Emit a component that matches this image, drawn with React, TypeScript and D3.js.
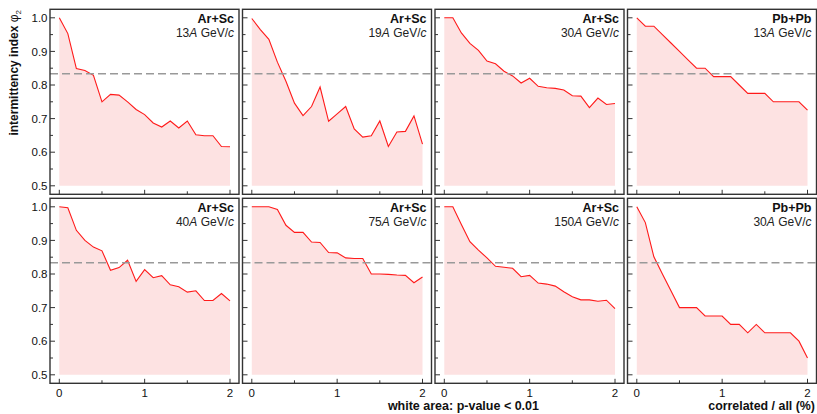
import React from 'react';
import * as d3 from 'd3';

// fraction of correlated particles (%)
const fractions = [0, 0.1, 0.2, 0.3, 0.4, 0.5, 0.6, 0.7, 0.8, 0.9, 1.0, 1.1, 1.2, 1.3, 1.4, 1.5, 1.6, 1.7, 1.8, 1.9, 2.0];

// intermittency index phi_2 at the p-value < 0.01 boundary
const arSc13 = [1.0, 0.953, 0.849, 0.843, 0.829, 0.75, 0.772, 0.77, 0.75, 0.727, 0.712, 0.687, 0.675, 0.693, 0.672, 0.693, 0.652, 0.649, 0.649, 0.617, 0.616];
const arSc19 = [0.998, 0.965, 0.936, 0.868, 0.811, 0.746, 0.709, 0.736, 0.794, 0.692, 0.714, 0.736, 0.669, 0.645, 0.649, 0.693, 0.617, 0.66, 0.662, 0.708, 0.624];
const arSc30 = [1.0, 1.0, 0.955, 0.924, 0.903, 0.871, 0.863, 0.841, 0.827, 0.806, 0.82, 0.796, 0.792, 0.79, 0.785, 0.768, 0.767, 0.733, 0.761, 0.742, 0.745];
const pbPb13 = [1.0, 0.975, 0.975, 0.95, 0.925, 0.9, 0.875, 0.85, 0.85, 0.825, 0.825, 0.825, 0.8, 0.775, 0.775, 0.775, 0.75, 0.75, 0.75, 0.75, 0.725];
const arSc40 = [1.0, 0.997, 0.93, 0.9, 0.88, 0.869, 0.811, 0.819, 0.841, 0.778, 0.813, 0.789, 0.795, 0.768, 0.762, 0.746, 0.75, 0.721, 0.721, 0.742, 0.72];
const arSc75 = [1.0, 1.0, 1.0, 0.992, 0.945, 0.924, 0.924, 0.895, 0.894, 0.864, 0.863, 0.848, 0.846, 0.846, 0.8, 0.8, 0.799, 0.797, 0.796, 0.774, 0.791];
const arSc150 = [1.0, 1.0, 0.947, 0.896, 0.871, 0.848, 0.823, 0.82, 0.817, 0.792, 0.796, 0.773, 0.77, 0.764, 0.747, 0.732, 0.723, 0.723, 0.719, 0.722, 0.697];
const pbPb30 = [1.0, 0.953, 0.851, 0.8, 0.75, 0.7, 0.7, 0.7, 0.675, 0.675, 0.675, 0.65, 0.65, 0.625, 0.65, 0.625, 0.625, 0.625, 0.625, 0.6, 0.55];

const systems = ['Ar+Sc', 'Ar+Sc', 'Ar+Sc', 'Pb+Pb', 'Ar+Sc', 'Ar+Sc', 'Ar+Sc', 'Pb+Pb'];
const energies = ['13', '19', '30', '13', '40', '75', '150', '30'];
const series = [arSc13, arSc19, arSc30, pbPb13, arSc40, arSc75, arSc150, pbPb30];

const yTicks = ['0.5', '0.6', '0.7', '0.8', '0.9', '1.0'];
const xTicks = ['0', '1', '2'];
const threshold = 5 / 6;

const W = 817;
const H = 414;
const left0 = 50;
const top0 = 9.3;
const colStep = 192.5;
const rowStep = 189;
const pw = 189;
const ph = 185;
const font = 'Liberation Sans, Arial, Helvetica, sans-serif';

const Panel = ({ idx }: { idx: number }) => {
  const col = idx % 4;
  const row = Math.floor(idx / 4);
  const px = left0 + col * colStep;
  const py = top0 + row * rowStep;

  const x = d3.scaleLinear().domain([0, 2]).range([9.3, pw - 9]);
  const y = d3.scaleLinear().domain([0.5, 1.0]).range([ph - 8.5, 8.5]);

  const pts = fractions.map((f, i) => ({ f, v: series[idx][i] }));
  const area = d3.area<{ f: number; v: number }>().x(d => x(d.f)).y0(y(0.5)).y1(d => y(d.v));
  const line = d3.line<{ f: number; v: number }>().x(d => x(d.f)).y(d => y(d.v));

  const yTickVals = d3.range(0.5, 1.0001, 0.05);
  const xTickVals = [0, 0.5, 1, 1.5, 2];

  return (
    <g transform={`translate(${px},${py})`}>
      <path d={area(pts) || ''} fill="#fde2e2" />
      <path d={line(pts) || ''} fill="none" stroke="#ff1a1a" strokeWidth={1.1} />
      <line x1={0} x2={pw} y1={y(threshold)} y2={y(threshold)} stroke="#999" strokeWidth={1.5} strokeDasharray="8,4" />
      {yTickVals.map((v, i) => (
        <line key={'y' + i} x1={0} x2={i % 2 === 0 ? 5 : 3} y1={y(v)} y2={y(v)} stroke="#333" strokeWidth={1} />
      ))}
      {xTickVals.map((v, i) => (
        <line key={'x' + i} x1={x(v)} x2={x(v)} y1={ph} y2={ph - (i % 2 === 0 ? 4.5 : 3)} stroke="#333" strokeWidth={1} />
      ))}
      <rect x={0} y={0} width={pw} height={ph} fill="none" stroke="#333" strokeWidth={1.4} />
      <text x={pw - 5} y={14} textAnchor="end" fontFamily={font} fontWeight="bold" fontSize={12.5} fill="#111">
        {systems[idx]}
      </text>
      <text x={pw - 5} y={27.5} textAnchor="end" fontFamily={font} fontSize={12} fill="#222">
        <tspan>{energies[idx]}</tspan>
        <tspan fontStyle="italic">A</tspan>
        <tspan> GeV/</tspan>
        <tspan fontStyle="italic">c</tspan>
      </text>
      {col === 0 &&
        yTicks.map(t => (
          <text key={t} x={-2.5} y={y(+t)} dy="0.36em" textAnchor="end" fontFamily={font} fontSize={11.5} fill="#111">
            {t}
          </text>
        ))}
      {row === 1 &&
        xTicks.map(t => (
          <text key={t} x={x(+t)} y={ph + 13.3} textAnchor="middle" fontFamily={font} fontSize={11.5} fill="#111">
            {t}
          </text>
        ))}
    </g>
  );
};

export default function App() {
  return (
    <svg width={W} height={H} style={{ position: 'absolute', left: 0, top: 0, background: '#fff' }}>
      {series.map((_, i) => (
        <Panel key={i} idx={i} />
      ))}
      <text
        transform="translate(18,10) rotate(-90)"
        textAnchor="end"
        fontFamily={font}
        fontWeight="bold"
        fontSize={12}
        fill="#111"
      >
        intermittency index <tspan fontWeight="normal">φ</tspan>
        <tspan fontWeight="normal" fontSize={8} dy={3}>2</tspan>
      </text>
      <text x={539} y={410} textAnchor="end" fontFamily={font} fontWeight="bold" fontSize={12.5} fill="#111">
        white area: p-value &lt; 0.01
      </text>
      <text x={815} y={410} textAnchor="end" fontFamily={font} fontWeight="bold" fontSize={12.4} fill="#111">
        correlated / all (%)
      </text>
    </svg>
  );
}
